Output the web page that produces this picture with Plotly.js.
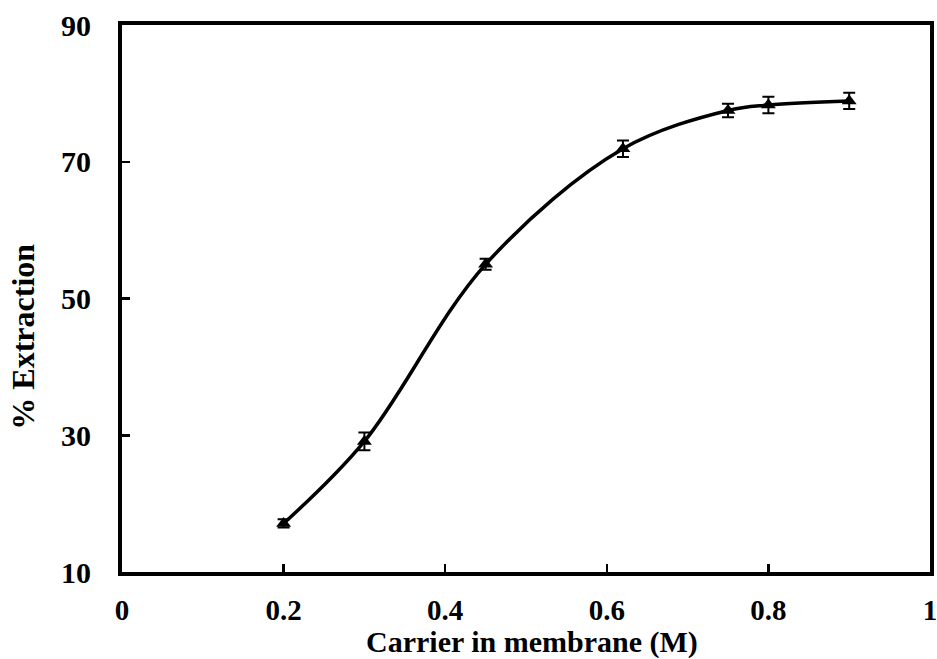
<!DOCTYPE html>
<html><head><meta charset="utf-8">
<script src="https://cdn.plot.ly/plotly-3.0.1.min.js"></script>
<style>html,body{margin:0;padding:0;background:#fff}#chart{width:937px;height:659px}</style>
</head><body><div id="chart"></div>
<script>
const carrier = [0.2, 0.3, 0.45, 0.62, 0.75, 0.8, 0.9];
const extraction = [17.1, 29.1, 55.0, 71.9, 77.5, 78.3, 78.9];
const errors = [0.6, 1.3, 0.8, 1.2, 1.0, 1.2, 1.2];
const xTicks = [0, 0.2, 0.4, 0.6, 0.8, 1];
const xTickLabels = ['0', '0.2', '0.4', '0.6', '0.8', '1'];
const yTicks = [10, 30, 50, 70, 90];
const xTitle = 'Carrier in membrane (M)';
const yTitle = '% Extraction';

const fam = '"Liberation Serif", "Times New Roman", serif';

const trace = {
  x: carrier, y: extraction, type: 'scatter', mode: 'lines+markers',
  line: {shape: 'spline', smoothing: 1, color: '#000', width: 3.5},
  marker: {symbol: 'triangle-up', size: 13, color: '#000'},
  error_y: {type: 'data', array: errors, visible: true, color: '#000', thickness: 2, width: 6}
};

const layout = {
  width: 937, height: 659,
  margin: {l: 122, r: 7, t: 25, b: 87},
  paper_bgcolor: '#fff', plot_bgcolor: '#fff',
  showlegend: false,
  font: {family: fam, size: 30, color: '#000'},
  xaxis: {
    range: [0, 1], tickvals: xTicks, ticktext: xTickLabels,
    ticks: 'inside', ticklen: 8, tickwidth: 2.5, tickcolor: '#000',
    showline: true, linewidth: 4, linecolor: '#000', mirror: true,
    showgrid: false, zeroline: false, ticklabeloverflow: 'allow',
    ticklabelstandoff: 9,
    tickfont: {family: fam, size: 29, color: '#000', weight: 'bold'}
  },
  yaxis: {
    range: [10, 90], tickvals: yTicks,
    ticks: 'inside', ticklen: 8, tickwidth: 2.5, tickcolor: '#000',
    showline: true, linewidth: 4, linecolor: '#000', mirror: true,
    showgrid: false, zeroline: false, ticklabeloverflow: 'allow',
    ticklabelstandoff: 21,
    tickfont: {family: fam, size: 30, color: '#000', weight: 'bold'}
  },
  annotations: [
    {text: '<b>' + xTitle + '</b>', xref: 'paper', yref: 'paper', x: 0.507, y: -0.128,
     xanchor: 'center', yanchor: 'middle', showarrow: false,
     font: {family: fam, size: 30, color: '#000'}},
    {text: '<b>' + yTitle + '</b>', xref: 'paper', yref: 'paper', x: -0.122, y: 0.431,
     xanchor: 'center', yanchor: 'middle', showarrow: false, textangle: -90,
     font: {family: fam, size: 32, color: '#000'}}
  ]
};

Plotly.newPlot('chart', [trace], layout, {displayModeBar: false, staticPlot: true});
</script></body></html>
